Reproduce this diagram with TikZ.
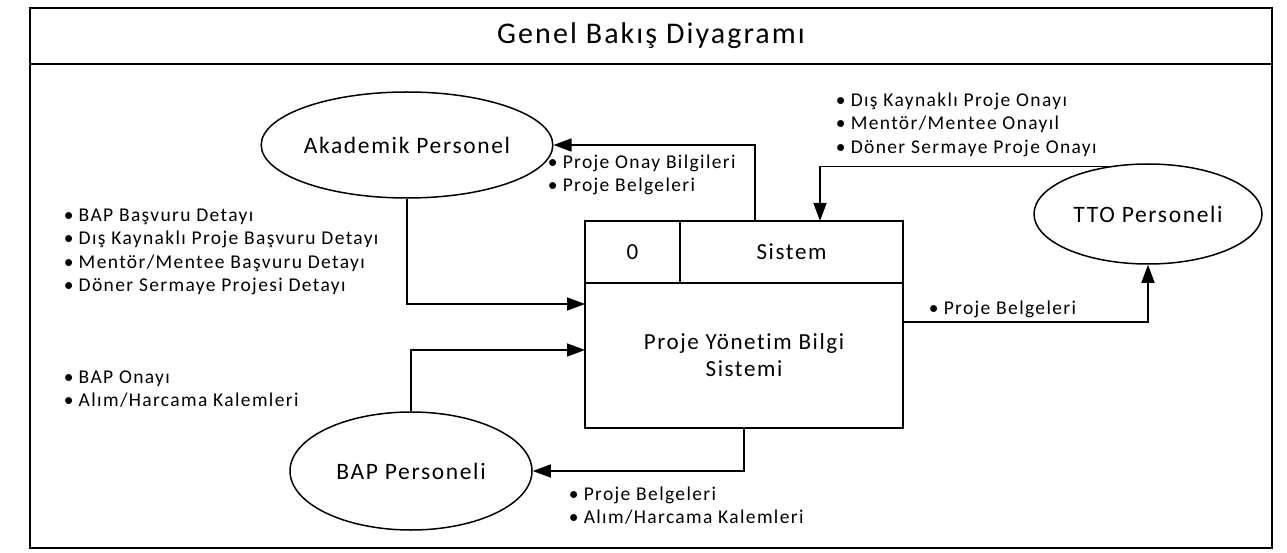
\documentclass[tikz,border=0pt]{standalone}
\usepackage{fontspec}
\setmainfont{Carlito}[LetterSpace=7, Ligatures=NoCommon]
\usetikzlibrary{arrows.meta, positioning, calc, shapes.geometric}

% bullet in front of a data flow item
\newcommand{\itm}{\makebox[15pt][l]{\textbullet}}

\begin{document}
\begin{tikzpicture}[
    x=1pt, y=-1pt,
    line width=1.5pt,
    actor/.style={ellipse, draw, minimum width=242pt, minimum height=106pt, inner sep=0pt, font=\fontsize{23.5}{27}\selectfont},
    proc/.style={rectangle, draw, outer sep=0pt, inner sep=0pt, align=center, font=\fontsize{23}{27}\selectfont},
    flowtext/.style={anchor=north west, inner sep=0pt, align=left, font=\fontsize{19.5}{23.5}\selectfont},
    flow/.style={-{Triangle[length=18pt, width=13pt]}, line width=1.5pt}
]
    \useasboundingbox (0,0) rectangle (1287,553);

    % frame and title bar
    \draw (30,8) rectangle (1272,548);
    \draw (30,64) -- (1272,64);
    \node[font=\fontsize{30}{34}\selectfont] (title) at (651,36) {Genel Bakış Diyagramı};

    % external entities
    \node[actor] (akademik) at (407,145) {Akademik Personel};
    \node[actor, minimum width=228pt, minimum height=100pt] (tto) at (1148,214) {TTO Personeli};
    \node[actor, minimum height=118pt] (bap) at (411,471) {BAP Personeli};

    % process 0
    \node[proc, minimum width=95pt, minimum height=62pt, anchor=north west] (pid) at (585,221) {0};
    \node[proc, minimum width=223pt, minimum height=62pt, right=0pt of pid] (pname) {Sistem};
    \node[proc, minimum width=318pt, minimum height=145pt, below=0pt of pid.south west, anchor=north west] (pbody) {Proje Yönetim Bilgi\\Sistemi};

    % data flows
    \draw[flow] ([xshift=-36.5pt]pname.north) |- (akademik.east);
    \draw[flow] (akademik.south) |- ([yshift=-21pt]pbody.north west);
    \draw[flow] (bap.north) |- ([yshift=-67pt]pbody.north west);
    \draw[flow] (pbody.south) |- (bap.east);
    \draw[flow] (tto.130) -| ([xshift=28.5pt]pname.north);
    \draw[flow] ([yshift=-39pt]pbody.north east) -| (tto.south);

    % flow labels
    \node[flowtext] (onaylist) at (547,154) {\itm Proje Onay Bilgileri\\\itm Proje Belgeleri};
    \node[flowtext] (basvurulist) at (63,208) {\itm BAP Başvuru Detayı\\\itm Dış Kaynaklı Proje Başvuru Detayı\\\itm Mentör/Mentee Başvuru Detayı\\\itm Döner Sermaye Projesi Detayı};
    \node[flowtext] (baplist) at (63,370) {\itm BAP Onayı\\\itm Alım/Harcama Kalemleri};
    \node[flowtext] (belgelist) at (568,486) {\itm Proje Belgeleri\\\itm Alım/Harcama Kalemleri};
    \node[flowtext] (ttolist) at (835,92) {\itm Dış Kaynaklı Proje Onayı\\\itm Mentör/Mentee Onayıl\\\itm Döner Sermaye Proje Onayı};
    \node[flowtext] (ttobelge) at (928,300) {\itm Proje Belgeleri};
\end{tikzpicture}
\end{document}
